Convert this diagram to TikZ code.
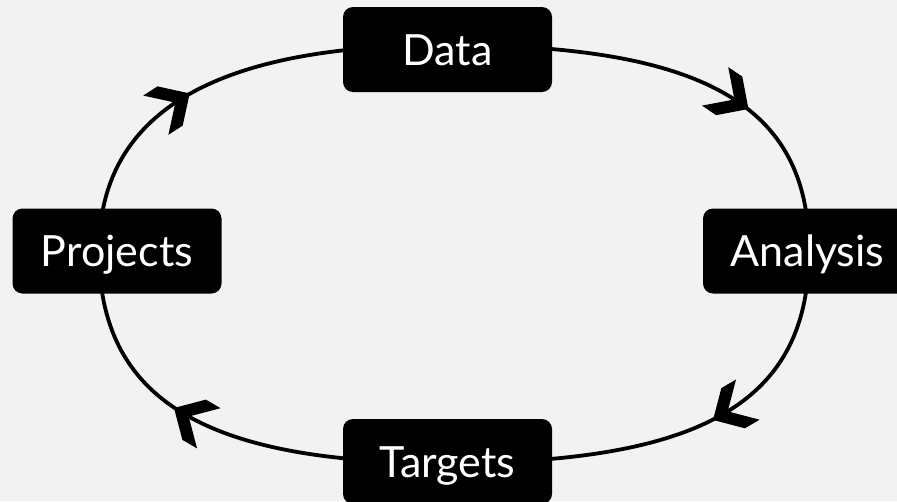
\documentclass[tikz,border=0pt]{standalone}
\usepackage{fontspec}
\setmainfont{Lato}
\usetikzlibrary{calc}
\pgfdeclarelayer{bg}
\pgfdeclarelayer{edges}
\pgfsetlayers{bg,edges,main}
\definecolor{bgcol}{HTML}{F2F2F2}
\newcommand\flowhead[2]{%
  \fill[black] ($(#1)!17pt!(#2)$) -- ($(#1)!24.14pt!105.1:(#2)$) -- ($(#1)!32.95pt!135:(#2)$)
    -- (#1) -- ($(#1)!32.95pt!-135:(#2)$) -- ($(#1)!24.14pt!-105.1:(#2)$) -- cycle;}
\begin{document}
\begin{tikzpicture}[x=1pt,y=-1pt,
  box/.style={fill=black, rounded corners=10pt, minimum width=209pt, minimum height=85pt,
    inner sep=0pt, text=white, font=\fontsize{43}{50}\selectfont, text height=31pt, text depth=0pt},
  link/.style={line width=3.8pt, draw=black}
]
\begin{pgfonlayer}{bg}
  \fill[bgcol] (0,0) rectangle (897,501);
\end{pgfonlayer}
\useasboundingbox (0,0) rectangle (897,501);
\clip (0,0) rectangle (897,501);

\node[box] (data) at (447.5,49.5) {Data};
\node[box] (proj) at (117,251) {Projects};
\node[box] (anal) at (807.5,251) {Analysis};
\node[box] (targ) at (447.5,461.5) {Targets};

\begin{pgfonlayer}{edges}
  \draw[link] ([xshift=-18pt]proj.center) .. controls +(0,-138) and +(-234,0) .. ([yshift=4.5pt]data.center)
    coordinate[pos=0.47] (n1) coordinate[pos=0.49] (f1);
  \draw[link] ([yshift=4.5pt]data.center) .. controls +(256,0) and +(0,-146) .. ([xshift=1.5pt]anal.center)
    coordinate[pos=0.53] (n2) coordinate[pos=0.55] (f2);
  \draw[link] ([xshift=1.5pt]anal.center) .. controls +(0,150.5) and +(256,0) .. ([yshift=-1.5pt]targ.center)
    coordinate[pos=0.49] (n3) coordinate[pos=0.51] (f3);
  \draw[link] ([yshift=-1.5pt]targ.center) .. controls +(-244,0) and +(0,148) .. ([xshift=-18pt]proj.center)
    coordinate[pos=0.48] (n4) coordinate[pos=0.50] (f4);
  \flowhead{n1}{f1}
  \flowhead{n2}{f2}
  \flowhead{n3}{f3}
  \flowhead{n4}{f4}
\end{pgfonlayer}
\end{tikzpicture}
\end{document}
